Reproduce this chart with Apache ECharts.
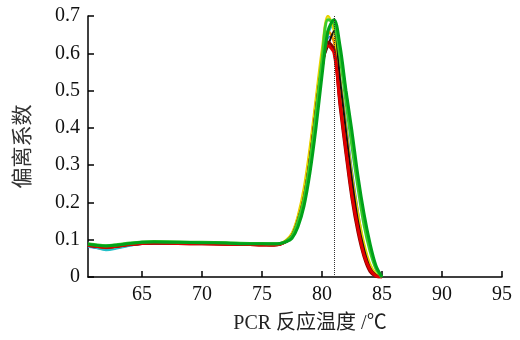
<!DOCTYPE html>
<html>
<head>
<meta charset="utf-8">
<script src="https://cdn.jsdelivr.net/npm/echarts@6/dist/echarts.min.js"></script>
<style>
  html, body { margin: 0; padding: 0; background: #fff; }
  #chart { width: 520px; height: 340px; }
</style>
</head>
<body>
<div id="chart"></div>
<script>
// melting temperatures (°C) shared by every curve
const temps = [60.5, 61, 62, 63, 64, 65, 66, 68, 70, 72, 74, 75, 76, 76.5, 77, 77.5, 78, 78.5, 79, 79.5, 80, 80.5, 81, 81.5, 82, 82.5, 83, 83.5, 84, 84.5, 85]

// deviation coefficient read per curve
const blueVals = [0.080, 0.078, 0.074, 0.078, 0.084, 0.088, 0.089, 0.089, 0.088, 0.087, 0.086, 0.086, 0.086, 0.088, 0.094, 0.106, 0.14, 0.20, 0.30, 0.43, 0.56, 0.64, 0.65, 0.54, 0.42, 0.29, 0.18, 0.09, 0.035, 0.008, 0]
const cyanVals = [0.082, 0.080, 0.072, 0.077, 0.084, 0.089, 0.091, 0.091, 0.090, 0.089, 0.088, 0.087, 0.087, 0.089, 0.095, 0.107, 0.14, 0.20, 0.29, 0.41, 0.55, 0.65, 0.68, 0.61, 0.50, 0.38, 0.26, 0.16, 0.08, 0.025, 0]
const orangeVals = [0.085, 0.083, 0.079, 0.082, 0.087, 0.090, 0.091, 0.091, 0.090, 0.089, 0.088, 0.087, 0.086, 0.088, 0.097, 0.114, 0.16, 0.23, 0.34, 0.47, 0.59, 0.66, 0.63, 0.51, 0.38, 0.25, 0.15, 0.075, 0.028, 0.006, 0]
const yellowVals = [0.086, 0.084, 0.080, 0.083, 0.088, 0.091, 0.092, 0.092, 0.091, 0.090, 0.089, 0.088, 0.087, 0.089, 0.099, 0.118, 0.165, 0.24, 0.35, 0.48, 0.61, 0.70, 0.66, 0.53, 0.40, 0.27, 0.17, 0.09, 0.035, 0.008, 0]
const blackVals = [0.084, 0.082, 0.079, 0.082, 0.087, 0.089, 0.090, 0.090, 0.089, 0.088, 0.087, 0.086, 0.085, 0.087, 0.094, 0.108, 0.15, 0.21, 0.32, 0.45, 0.57, 0.62, 0.66, 0.53, 0.39, 0.26, 0.15, 0.075, 0.025, 0.005, 0]
const darkRedVals = [0.085, 0.083, 0.080, 0.083, 0.087, 0.090, 0.091, 0.090, 0.089, 0.088, 0.087, 0.086, 0.086, 0.088, 0.095, 0.110, 0.15, 0.21, 0.31, 0.44, 0.56, 0.63, 0.61, 0.46, 0.33, 0.21, 0.12, 0.055, 0.015, 0.002, 0]
const redVals = [0.085, 0.083, 0.080, 0.083, 0.087, 0.090, 0.091, 0.090, 0.089, 0.088, 0.087, 0.086, 0.086, 0.088, 0.095, 0.110, 0.15, 0.21, 0.31, 0.44, 0.56, 0.62, 0.60, 0.47, 0.34, 0.22, 0.13, 0.06, 0.02, 0.003, 0]
const limeVals = [0.089, 0.087, 0.084, 0.087, 0.091, 0.094, 0.095, 0.094, 0.093, 0.092, 0.090, 0.090, 0.089, 0.090, 0.096, 0.110, 0.15, 0.21, 0.31, 0.44, 0.58, 0.69, 0.68, 0.59, 0.47, 0.35, 0.24, 0.14, 0.07, 0.022, 0]
const greenVals = [0.088, 0.086, 0.083, 0.086, 0.090, 0.093, 0.094, 0.093, 0.092, 0.091, 0.089, 0.089, 0.089, 0.090, 0.094, 0.104, 0.135, 0.19, 0.28, 0.40, 0.54, 0.66, 0.69, 0.62, 0.50, 0.39, 0.27, 0.17, 0.09, 0.03, 0]

// reference melting point marker
const markTemp = 81

const curves = [
  { vals: blueVals, color: "#3a62d0", width: 1.5 },
  { vals: cyanVals, color: "#22c0c8", width: 2 },
  { vals: orangeVals, color: "#f08c00", width: 2.5 },
  { vals: yellowVals, color: "#e6d400", width: 2.5 },
  { vals: blackVals, color: "#111111", width: 2 },
  { vals: darkRedVals, color: "#8a0000", width: 3 },
  { vals: redVals, color: "#e00000", width: 3 },
  { vals: limeVals, color: "#3ccc2c", width: 3 },
  { vals: greenVals, color: "#00a21a", width: 3 },
]

const serif = "'Liberation Serif', 'Noto Sans CJK SC', serif"

const chart = echarts.init(document.getElementById("chart"), null, { renderer: "canvas" })

chart.setOption({
  animation: false,
  backgroundColor: "#fff",
  grid: { left: 88, right: 18, top: 16, bottom: 63 },
  xAxis: {
    type: "value",
    min: 60.5,
    max: 95,
    splitNumber: 7,
    name: "PCR 反应温度 /℃",
    nameLocation: "middle",
    nameGap: 37,
    nameTextStyle: { fontFamily: serif, fontSize: 20, color: "#222", padding: [0, 0, 0, 30] },
    axisLine: { lineStyle: { color: "#000", width: 1.5 } },
    axisTick: { inside: true, length: 6, lineStyle: { color: "#000", width: 1.5 } },
    axisLabel: { showMinLabel: false, fontFamily: serif, fontSize: 20, color: "#111", margin: 8 },
    splitLine: { show: false },
  },
  yAxis: {
    type: "value",
    min: 0,
    max: 0.7,
    interval: 0.1,
    name: "偏离系数",
    nameLocation: "middle",
    nameGap: 56,
    nameRotate: 90,
    nameTextStyle: { fontFamily: "'Noto Sans CJK SC', sans-serif", fontSize: 21, color: "#333" },
    axisLine: { show: true, lineStyle: { color: "#000", width: 1.5 } },
    axisTick: { show: true, inside: true, length: 6, lineStyle: { color: "#000", width: 1.5 } },
    axisLabel: { fontFamily: serif, fontSize: 20, color: "#111", margin: 8 },
    splitLine: { show: false },
  },
  series: curves.map((c, i) => ({
    type: "line",
    smooth: 0.35,
    showSymbol: false,
    lineStyle: { color: c.color, width: c.width },
    data: temps.map((t, j) => [t, c.vals[j]]),
    markLine: i === curves.length - 1 ? {
      silent: true,
      symbol: ["none", "none"],
      label: { show: false },
      lineStyle: { color: "#333", type: "dotted", width: 1 },
      data: [{ xAxis: markTemp }],
    } : undefined,
  })),
})
</script>
</body>
</html>
